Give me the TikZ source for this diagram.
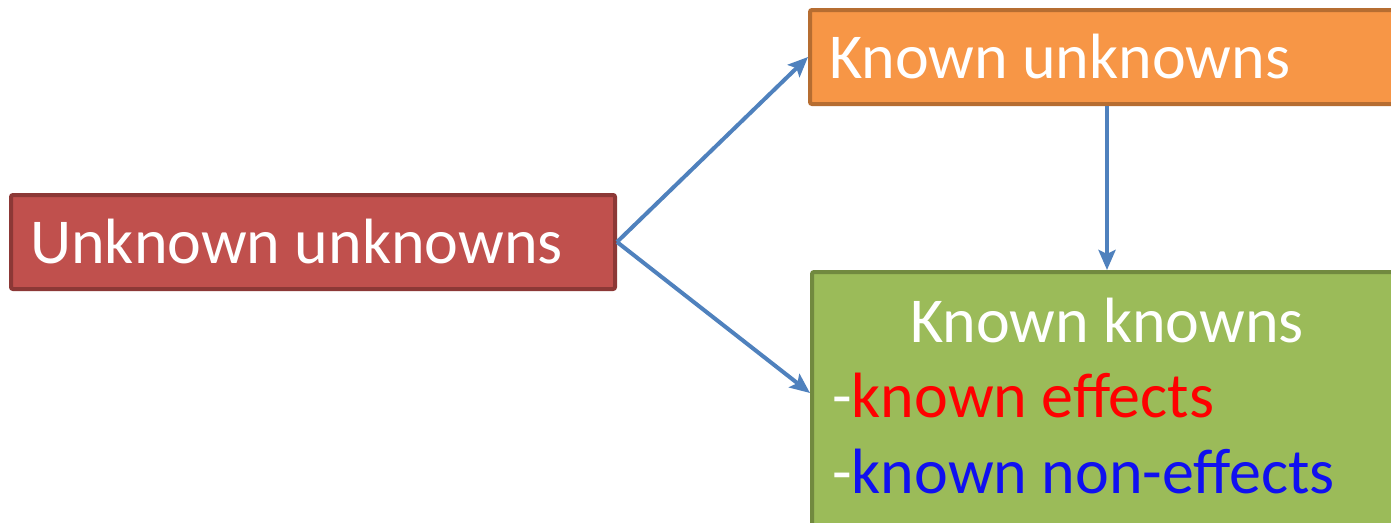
\documentclass[tikz,border=0pt]{standalone}
\usepackage{fontspec}
\setmainfont{Carlito}
\usetikzlibrary{arrows.meta}
\definecolor{redfill}{HTML}{C0504D}
\definecolor{redline}{HTML}{8C3836}
\definecolor{orfill}{HTML}{F79646}
\definecolor{orline}{HTML}{B66D31}
\definecolor{grfill}{HTML}{9BBB59}
\definecolor{grline}{HTML}{71893F}
\definecolor{arrblue}{HTML}{4F81BD}
\definecolor{txtred}{HTML}{FF0000}
\definecolor{txtblue}{HTML}{1010F0}
\tikzset{
  box/.style={rectangle, line width=4pt, rounded corners=2pt, inner sep=0pt},
  lbl/.style={inner sep=0pt, text=white, font=\fontsize{64}{76}\selectfont},
  arr/.style={draw=arrblue, line width=4pt, -{Stealth[length=20pt,width=17pt,inset=4pt]}}
}
\begin{document}
\begin{tikzpicture}[x=1pt,y=-1pt]
\useasboundingbox (0,0) rectangle (1391,522);
\clip (0,0) rectangle (1391,522);
\fill[white] (0,0) rectangle (1391,522);
\node[box, draw=redline, fill=redfill, minimum width=604pt, minimum height=94pt] (uu) at (313,242) {};
\node[box, draw=orline, fill=orfill, minimum width=594pt, minimum height=94pt] (ku) at (1107,57) {};
\node[box, draw=grline, fill=grfill, minimum width=590pt, minimum height=300pt] (kk) at (1107,422) {};
\node[lbl, anchor=base west] (t1) at (30,263) {Unknown unknowns};
\node[lbl, anchor=base west] (t2) at (829,78) {Known unknowns};
\node[lbl, anchor=base] (t3) at (1107,342) {Known knowns};
\node[lbl, anchor=base west] (t4) at (832,417) {-\textcolor{txtred}{known effects}};
\node[lbl, anchor=base west] (t5) at (832,493) {-\textcolor{txtblue}{known non-effects}};
\draw[arr] (uu.east) -- (ku.west);
\draw[arr] (uu.east) -- ([yshift=-123pt]kk.north west);
\draw[arr] (ku.south) -- (kk.north);
\end{tikzpicture}
\end{document}
